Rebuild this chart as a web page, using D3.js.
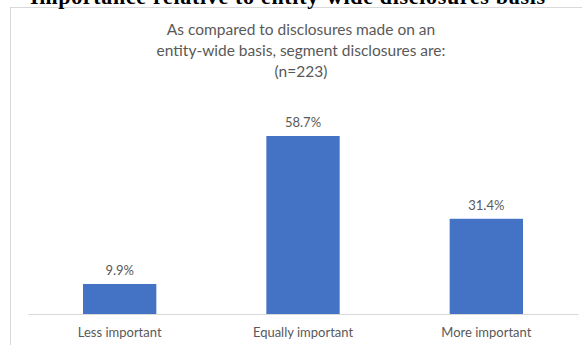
<!DOCTYPE html>
<html>
<head>
<meta charset="utf-8">
<script src="https://cdn.jsdelivr.net/npm/d3@7"></script>
<style>
  body { margin: 0; background: #fff; }
  svg { display: block; }
</style>
</head>
<body>
<svg id="chart"></svg>
<script>
var categories = ["Less important", "Equally important", "More important"]
var values = [9.9, 58.7, 31.4]
var valueLabels = ["9.9%", "58.7%", "31.4%"]
var titleLines = ["As compared to disclosures made on an", "entity-wide basis, segment disclosures are:", "(n=223)"]
var headerText = "Importance relative to entity-wide disclosures basis"

var dimensions = {
    width: 582,
    height: 345,
    margin: { top: 136, bottom: 31, left: 28, right: 4 }
}

var svg = d3.select("#chart")
    .attr("width", dimensions.width)
    .attr("height", dimensions.height)

var font = "Lato, 'Open Sans', sans-serif"
var gray = "#595959"

// chart frame
svg.append("rect")
    .attr("x", 10.5)
    .attr("y", 7.5)
    .attr("width", 600)
    .attr("height", 400)
    .attr("fill", "#fff")
    .attr("stroke", "#d9d9d9")

// heading of the page above the chart, mostly cut off by the top edge
svg.append("text")
    .attr("x", 30)
    .attr("y", 4)
    .attr("font-family", "'Liberation Serif', serif")
    .attr("font-weight", "bold")
    .attr("font-size", 22)
    .attr("textLength", 515)
    .attr("fill", "#000")
    .text(headerText)

var baseY = dimensions.height - dimensions.margin.bottom

var xScale = d3.scaleBand()
    .domain(categories)
    .range([dimensions.margin.left, dimensions.width - dimensions.margin.right])
    .paddingInner(0.6)
    .paddingOuter(0.3)

var yScale = d3.scaleLinear()
    .domain([0, 58.7])
    .range([baseY, dimensions.margin.top])

svg.append("g")
    .selectAll("rect")
    .data(values)
    .enter()
    .append("rect")
    .attr("x", (d, i) => xScale(categories[i]))
    .attr("y", d => yScale(d))
    .attr("width", xScale.bandwidth())
    .attr("height", d => baseY - yScale(d))
    .attr("fill", "#4472c4")

svg.append("g")
    .selectAll("text")
    .data(values)
    .enter()
    .append("text")
    .attr("x", (d, i) => xScale(categories[i]) + xScale.bandwidth() / 2)
    .attr("y", d => yScale(d) - 9)
    .attr("text-anchor", "middle")
    .attr("font-family", font)
    .attr("font-size", 13)
    .attr("fill", gray)
    .text((d, i) => valueLabels[i])

var xAxis = svg.append("g")
    .attr("transform", `translate(0, ${baseY})`)
    .call(d3.axisBottom(xScale).tickSize(0).tickPadding(14))
xAxis.select(".domain").attr("stroke", "#d9d9d9")
xAxis.selectAll("text")
    .attr("font-family", font)
    .attr("font-size", 13)
    .attr("fill", gray)

svg.append("g")
    .selectAll("text")
    .data(titleLines)
    .enter()
    .append("text")
    .attr("x", 301)
    .attr("y", (d, i) => 35 + i * 21)
    .attr("text-anchor", "middle")
    .attr("font-family", font)
    .attr("font-size", 15.5)
    .attr("fill", gray)
    .text(d => d)
</script>
</body>
</html>
